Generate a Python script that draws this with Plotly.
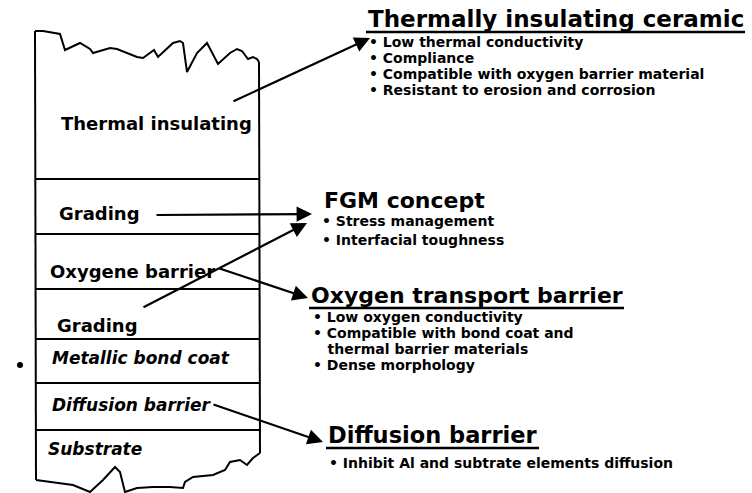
import plotly.graph_objects as go

W, H = 752, 493
FONT = "DejaVu Sans"

# ---- geometry of the layered coating sketch (pixel space) ----
box_left, box_right = 36, 259
layer_lines_y = [179, 234, 289, 339, 383, 430]

top_edge_x = [35, 43, 60, 65, 80, 90, 93, 110, 117, 127, 137, 143, 152, 154, 158, 173, 180, 183, 187, 197, 207, 213, 218, 230, 237, 242, 248, 253, 257, 259]
top_edge_y = [31, 31, 34, 50, 43, 49, 53, 48, 49, 53, 57, 58, 51, 50, 57, 43, 41, 43, 72, 53, 43, 55, 64, 53, 49, 51, 59, 57, 59, 62]

bottom_edge_x = [36, 53, 73, 90, 103, 115, 120, 125, 137, 153, 170, 183, 185, 193, 213, 225, 230, 240, 247, 253, 260]
bottom_edge_y = [480, 482, 485, 492, 480, 467, 472, 492, 488, 487, 487, 488, 482, 477, 475, 470, 462, 460, 465, 458, 453]

# ---- layer labels ----
layer_labels = ["Thermal insulating", "Grading", "Oxygene barrier", "Grading",
                "Metallic bond coat", "Diffusion barrier", "Substrate"]
layer_label_x = [59, 57, 48, 55, 50, 50, 46]
layer_label_y = [123, 213, 271, 325, 358, 405, 449]
layer_label_italic = [False, False, False, False, True, True, True]

# ---- description blocks ----
titles = ["Thermally insulating ceramic", "FGM concept", "Oxygen transport barrier", "Diffusion barrier"]
title_x = [366, 322, 309, 326]
title_y = [19, 200, 295, 435]
title_size = [23, 22, 22, 22.5]
title_underlined = [True, False, True, True]
title_width = [379, 0, 315, 213]

bullets = [
    ["• Low thermal conductivity", "• Compliance",
     "• Compatible with oxygen barrier material", "• Resistant to erosion and corrosion"],
    ["• Stress management", "• Interfacial toughness"],
    ["• Low oxygen conductivity", "• Compatible with bond coat and",
     "   thermal barrier materials", "• Dense morphology"],
    ["• Inhibit Al and subtrate elements diffusion"],
]
bullet_x = [367, 320, 311, 327]
bullet_y = [[42, 58, 74, 90], [221, 240], [317, 333, 349, 365], [463]]

# ---- arrows: (tail_x, tail_y, tip_x, tip_y) ----
arrows = [
    (232, 102, 370, 38),
    (155, 215, 312, 214),
    (142, 308, 307, 223),
    (218, 268, 308, 298),
    (212, 404, 323, 442),
]

fig = go.Figure()

line_style = dict(color="black", width=2)
fig.add_trace(go.Scatter(x=top_edge_x, y=top_edge_y, mode="lines", line=line_style, hoverinfo="skip"))
fig.add_trace(go.Scatter(x=bottom_edge_x, y=bottom_edge_y, mode="lines", line=line_style, hoverinfo="skip"))
fig.add_trace(go.Scatter(x=[top_edge_x[0], bottom_edge_x[0]], y=[top_edge_y[0], bottom_edge_y[0]],
                         mode="lines", line=line_style, hoverinfo="skip"))
fig.add_trace(go.Scatter(x=[top_edge_x[-1], bottom_edge_x[-1]], y=[top_edge_y[-1], bottom_edge_y[-1]],
                         mode="lines", line=line_style, hoverinfo="skip"))
for ly in layer_lines_y:
    fig.add_trace(go.Scatter(x=[box_left, box_right], y=[ly, ly], mode="lines",
                             line=line_style, hoverinfo="skip"))
# stray dot
fig.add_trace(go.Scatter(x=[20], y=[365], mode="markers", marker=dict(color="black", size=6),
                         hoverinfo="skip"))

annotations = []
for t, x, y, it in zip(layer_labels, layer_label_x, layer_label_y, layer_label_italic):
    txt = f"<b><i>{t}</i></b>" if it else f"<b>{t}</b>"
    annotations.append(dict(x=x, y=y, text=txt, showarrow=False, xanchor="left", yanchor="middle",
                            font=dict(family=FONT, size=17 if it else 18, color="black")))

for t, x, y, s in zip(titles, title_x, title_y, title_size):
    annotations.append(dict(x=x, y=y, text=f"<b>{t}</b>", showarrow=False, xanchor="left",
                            yanchor="middle", font=dict(family=FONT, size=s, color="black")))

for lines, x, ys in zip(bullets, bullet_x, bullet_y):
    for t, y in zip(lines, ys):
        annotations.append(dict(x=x, y=y, text=f"<b>{t}</b>", showarrow=False, xanchor="left",
                                yanchor="middle", font=dict(family=FONT, size=14, color="black")))

for tx, ty, hx, hy in arrows:
    annotations.append(dict(x=hx, y=hy, ax=tx, ay=ty, xref="x", yref="y", axref="x", ayref="y",
                            text="", showarrow=True, arrowhead=2, arrowsize=1.4, arrowwidth=2.2,
                            arrowcolor="black", standoff=0, startstandoff=0))

shapes = []
for x, y, w, u in zip(title_x, title_y, title_width, title_underlined):
    if u:
        shapes.append(dict(type="line", x0=x, x1=x + w, y0=y + 13, y1=y + 13,
                           line=dict(color="black", width=2.5)))

fig.update_layout(
    width=W, height=H, margin=dict(l=0, r=0, t=0, b=0),
    paper_bgcolor="white", plot_bgcolor="white", showlegend=False,
    xaxis=dict(range=[0, W], visible=False, fixedrange=True),
    yaxis=dict(range=[H, 0], visible=False, fixedrange=True),
    annotations=annotations, shapes=shapes,
)

fig.write_html("out.html", config={"displayModeBar": False, "staticPlot": True},
               post_script="document.body.style.margin='0px';document.body.style.overflow='hidden';")
